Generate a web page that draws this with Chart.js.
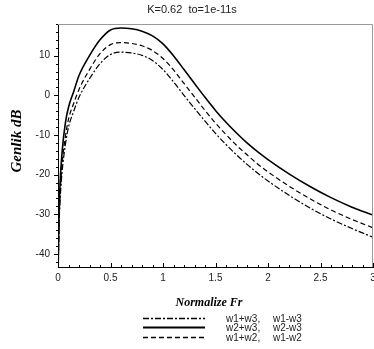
<!DOCTYPE html>
<html>
<head>
<meta charset="utf-8">
<script src="https://cdn.jsdelivr.net/npm/chart.js@4.4.0/dist/chart.umd.min.js"></script>
<style>
  html, body { margin: 0; padding: 0; background: #fff; }
</style>
</head>
<body>
<canvas id="grafik" width="374" height="349"></canvas>
<script>
// Normalize frekans (Fr) ve genlik (dB) değerleri
const frekans = [0.002, 0.01, 0.02, 0.04, 0.07, 0.1, 0.15, 0.2, 0.3, 0.4, 0.5, 0.6, 0.7, 0.8, 0.9, 1.0,
                 1.1, 1.2, 1.3, 1.4, 1.5, 1.6, 1.7, 1.8, 1.9, 2.0, 2.2, 2.4, 2.6, 2.8, 3.0];
const w2w3 = [-43, -30, -22, -14, -7, -3, 1, 5, 10, 14, 16.5, 17, 16.8, 16.2, 15, 13,
              10, 6.5, 3, -0.5, -3.8, -6.8, -9.5, -12, -14.2, -16.2, -19.8, -23, -25.8, -28.2, -30.2];
const w1w2 = [-43, -32, -25, -17, -10.5, -6, -2, 1.5, 6.5, 10.5, 12.8, 13.3, 13.1, 12.5, 11.3, 9.3,
              6.4, 3, -0.4, -3.8, -7, -9.9, -12.6, -15, -17.3, -19.3, -22.9, -26.1, -28.9, -31.3, -33.4];
const w1w3 = [-43, -33, -26.5, -19, -12.5, -8, -4, -0.5, 4.2, 8, 10.3, 10.9, 10.7, 10.1, 8.8, 6.5,
              3.4, 0, -3.3, -6.5, -9.6, -12.4, -15, -17.4, -19.6, -21.6, -25.2, -28.4, -31.2, -33.6, -35.8];

const xTicks = [0, 0.5, 1, 1.5, 2, 2.5, 3];
const yTicks = [-40, -30, -20, -10, 0, 10];
const seriesLeft = ['w1+w3,', 'w2+w3,', 'w1+w2,'];
const seriesRight = ['w1-w3', 'w2-w3', 'w1-w2'];

const baslik = 'K=0.62  to=1e-11s';
const xBaslik = 'Normalize Fr';
const yBaslik = 'Genlik dB';

function noktalar(values) {
    return frekans.map((f, i) => ({ x: f, y: values[i] }));
}

// Başlık, çerçeve, çentikler ve gösterge
const eklerPlugin = {
    id: 'ekler',
    afterDraw(chart) {
        const ctx = chart.ctx;
        const area = chart.chartArea;
        const xs = chart.scales.x;
        const ys = chart.scales.y;
        ctx.save();

        ctx.fillStyle = '#222';
        ctx.font = '11px "Liberation Sans", Arial, sans-serif';
        ctx.textAlign = 'center';
        ctx.textBaseline = 'middle';
        ctx.fillText(baslik, 192, 10);

        // üst ve sağ çerçeve
        ctx.strokeStyle = '#999';
        ctx.lineWidth = 1;
        ctx.beginPath();
        ctx.moveTo(area.left, area.top + 0.5);
        ctx.lineTo(area.right - 0.5, area.top + 0.5);
        ctx.lineTo(area.right - 0.5, area.bottom);
        ctx.stroke();

        // çentikler
        ctx.strokeStyle = '#000';
        ctx.beginPath();
        for (let v = -42; v <= 18; v += 2) {
            const py = Math.round(ys.getPixelForValue(v)) + 0.5;
            const len = v % 10 === 0 ? 4 : 2;
            ctx.moveTo(area.left, py);
            ctx.lineTo(area.left - len, py);
        }
        for (let k = 0; k <= 30; k++) {
            const px = Math.round(xs.getPixelForValue(k / 10)) + 0.5;
            const len = k % 5 === 0 ? 4 : 2;
            ctx.moveTo(px, area.bottom);
            ctx.lineTo(px, area.bottom - len);
        }
        ctx.stroke();

        // eksen başlıkları
        ctx.fillStyle = '#000';
        ctx.font = 'italic bold 12px "Liberation Serif", "Times New Roman", serif';
        ctx.fillText(xBaslik, 209, 303);
        ctx.save();
        ctx.translate(17, 141);
        ctx.rotate(-Math.PI / 2);
        ctx.font = 'italic bold 15px "Liberation Serif", "Times New Roman", serif';
        ctx.fillText(yBaslik, 0, 0);
        ctx.restore();

        // gösterge
        const satirlar = [318, 327, 337];
        ctx.font = '10px "Liberation Sans", Arial, sans-serif';
        ctx.textAlign = 'left';
        chart.data.datasets.forEach((ds, i) => {
            const y = satirlar[i] + 0.5;
            ctx.strokeStyle = '#000';
            ctx.lineWidth = ds.borderWidth + 0.4;
            ctx.setLineDash(ds.borderDash || []);
            ctx.beginPath();
            ctx.moveTo(143, y);
            ctx.lineTo(205, y);
            ctx.stroke();
            ctx.setLineDash([]);
            ctx.fillStyle = '#222';
            ctx.fillText(seriesLeft[i], 226, satirlar[i] + 1);
            ctx.fillText(seriesRight[i], 273, satirlar[i] + 1);
        });
        ctx.restore();
    }
};

const ortak = {
    fill: false,
    borderColor: '#000',
    pointRadius: 0,
    cubicInterpolationMode: 'monotone'
};

new Chart(document.getElementById('grafik'), {
    type: 'line',
    data: {
        datasets: [
            { ...ortak, label: seriesLeft[0] + ' ' + seriesRight[0], data: noktalar(w1w3), borderWidth: 1.2, borderDash: [6, 2, 2, 2] },
            { ...ortak, label: seriesLeft[1] + ' ' + seriesRight[1], data: noktalar(w2w3), borderWidth: 1.6, borderDash: [] },
            { ...ortak, label: seriesLeft[2] + ' ' + seriesRight[2], data: noktalar(w1w2), borderWidth: 1.2, borderDash: [5, 3] }
        ]
    },
    options: {
        responsive: false,
        animation: false,
        layout: { padding: { top: 24, right: 1, bottom: 0, left: 0 } },
        plugins: {
            legend: { display: false },
            title: { display: false },
            tooltip: { enabled: false }
        },
        scales: {
            x: {
                type: 'linear',
                min: 0,
                max: 3,
                grid: { display: false, drawTicks: false },
                border: { display: true, color: '#000', width: 1 },
                afterBuildTicks: (scale) => { scale.ticks = xTicks.map(v => ({ value: v })); },
                afterFit: (scale) => { scale.height = 82; scale.paddingRight = 0; scale.paddingLeft = 0; },
                ticks: {
                    padding: 5,
                    color: '#222',
                    font: { family: '"Liberation Sans", Arial, sans-serif', size: 10 },
                    maxRotation: 0,
                    autoSkip: false,
                    callback: (v) => String(v)
                }
            },
            y: {
                type: 'linear',
                min: -43.3,
                max: 18,
                grid: { display: false, drawTicks: false },
                border: { display: true, color: '#000', width: 1 },
                afterBuildTicks: (scale) => { scale.ticks = yTicks.map(v => ({ value: v })); },
                afterFit: (scale) => { scale.width = 58; scale.paddingTop = 0; scale.paddingBottom = 0; },
                ticks: {
                    padding: 8,
                    color: '#222',
                    font: { family: '"Liberation Sans", Arial, sans-serif', size: 10 },
                    autoSkip: false,
                    callback: (v) => String(v)
                }
            }
        }
    },
    plugins: [eklerPlugin]
});
</script>
</body>
</html>
